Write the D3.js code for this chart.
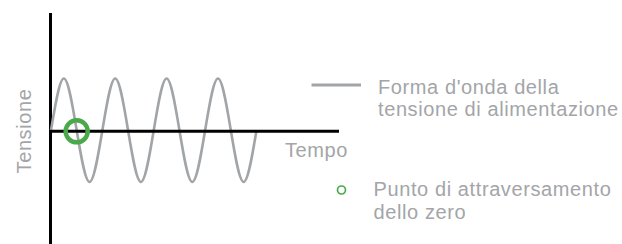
<!DOCTYPE html>
<html>
<head>
<meta charset="utf-8">
<script src="https://cdn.jsdelivr.net/npm/d3@7"></script>
<style>
  html, body { margin: 0; padding: 0; background: #ffffff; }
  svg text { font-family: "Liberation Sans", Arial, Helvetica, sans-serif; }
</style>
</head>
<body>
<svg id="chart" width="622" height="244"></svg>
<script>
// Waveform key points: time in quarter periods, normalized voltage
const timeSteps = [0,1,2,3,4,5,6,7,8,9,10,11,12,13,14,15,16];
const voltage   = [0,1,0,-1,0,1,0,-1,0,1,0,-1,0,1,0,-1,0];
// Zero-crossing highlighted (time, voltage)
const zeroCrossTime = [2];
const zeroCrossVolt = [0];
// Labels
const xLabel = "Tempo";
const yLabel = "Tensione";
const legendWave = ["Forma d'onda della", "tensione di alimentazione"];
const legendZero = ["Punto di attraversamento", "dello zero"];

const svg = d3.select("#chart");
const waveColor = "#a2a5a8";
const textColor = "#a3a5a8";
const green = "#4aa94a";

const x = d3.scaleLinear().domain([0, 16]).range([51, 256.5]);
const y = d3.scaleLinear().domain([-1, 1]).range([182, 78.5]);

// Axes
const axisX0 = 50.5, axisYTop = 13, axisYBottom = 244, axisXRight = 339;
const zeroY = 131.3;
svg.append("line")
  .attr("x1", axisX0).attr("x2", axisX0)
  .attr("y1", axisYTop).attr("y2", axisYBottom)
  .attr("stroke", "#000").attr("stroke-width", 3);

// Wave
const pts = timeSteps.map((t, i) => [t, voltage[i]]);
const line = d3.line()
  .x(d => x(d[0]))
  .y(d => y(d[1]))
  .curve(d3.curveNatural);
svg.append("path")
  .attr("d", line(pts))
  .attr("fill", "none")
  .attr("stroke", waveColor)
  .attr("stroke-width", 2.6);

svg.append("line")
  .attr("x1", axisX0 - 1.5).attr("x2", axisXRight)
  .attr("y1", zeroY).attr("y2", zeroY)
  .attr("stroke", "#000").attr("stroke-width", 3);

// Zero crossing marker
svg.selectAll("circle.zc")
  .data(zeroCrossTime.map((t, i) => [t, zeroCrossVolt[i]]))
  .enter().append("circle")
  .attr("class", "zc")
  .attr("cx", d => x(d[0]))
  .attr("cy", zeroY)
  .attr("r", 11)
  .attr("fill", "none")
  .attr("stroke", green)
  .attr("stroke-width", 4.5);

const fs = "20px";
const ls = "0.6px";

// Axis labels
svg.append("text")
  .attr("x", 285).attr("y", 157)
  .attr("fill", textColor)
  .style("font-size", fs).style("letter-spacing", ls)
  .text(xLabel);

svg.append("text")
  .attr("transform", "translate(30.5,131) rotate(-90)")
  .attr("text-anchor", "middle")
  .attr("fill", textColor)
  .style("font-size", fs).style("letter-spacing", ls)
  .text(yLabel);

// Legend: waveform
svg.append("line")
  .attr("x1", 311.5).attr("x2", 361)
  .attr("y1", 85).attr("y2", 85)
  .attr("stroke", waveColor).attr("stroke-width", 3);
const t1 = svg.append("text")
  .attr("fill", textColor)
  .style("font-size", fs).style("letter-spacing", ls);
legendWave.forEach((s, i) => {
  t1.append("tspan").attr("x", 378).attr("y", 93.5 + i * 22).text(s);
});

// Legend: zero crossing
svg.append("circle")
  .attr("cx", 341.5).attr("cy", 190)
  .attr("r", 4)
  .attr("fill", "none")
  .attr("stroke", green).attr("stroke-width", 1.7);
const t2 = svg.append("text")
  .attr("fill", textColor)
  .style("font-size", fs).style("letter-spacing", ls);
legendZero.forEach((s, i) => {
  t2.append("tspan").attr("x", 373.5).attr("y", 196.3 + i * 22.4).text(s);
});
</script>
</body>
</html>
